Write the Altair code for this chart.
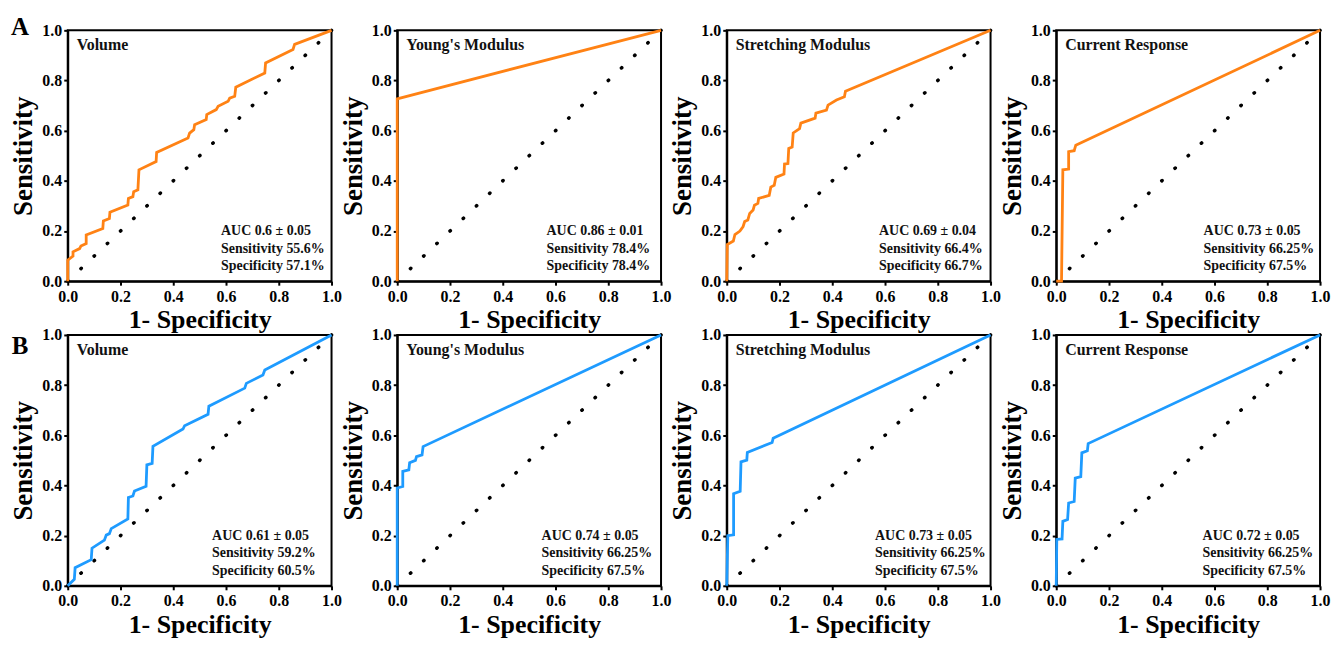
import altair as alt
import pandas as pd

# ---------------- data ----------------
panel_names = ["Volume", "Young's Modulus", "Stretching Modulus", "Current Response"]
tick_values = [0.0, 0.2, 0.4, 0.6, 0.8, 1.0]
diag_x = [0.0, 1.0]
diag_y = [0.0, 1.0]

# Row A (orange)
a_volume_fpr = [0, 0, 0.02, 0.02, 0.045, 0.05, 0.07, 0.07, 0.133, 0.135, 0.158, 0.16, 0.228, 0.23, 0.247, 0.25,
                0.266, 0.27, 0.335, 0.337, 0.456, 0.462, 0.478, 0.481, 0.525, 0.527, 0.563, 0.57, 0.608, 0.614,
                0.633, 0.637, 0.747, 0.75, 0.854, 0.86, 1.0]
a_volume_tpr = [0, 0.084, 0.1, 0.117, 0.13, 0.14, 0.15, 0.184, 0.21, 0.24, 0.25, 0.275, 0.304, 0.33, 0.337, 0.357,
                0.364, 0.444, 0.477, 0.513, 0.571, 0.59, 0.604, 0.624, 0.644, 0.664, 0.684, 0.697, 0.717, 0.73,
                0.737, 0.773, 0.83, 0.87, 0.924, 0.944, 1.0]
a_young_fpr = [0, 0, 1.0]
a_young_tpr = [0, 0.727, 1.0]
a_stretch_fpr = [0, 0.002, 0.025, 0.031, 0.05, 0.062, 0.068, 0.08, 0.087, 0.1, 0.105, 0.118, 0.121, 0.161, 0.167,
                 0.18, 0.186, 0.217, 0.219, 0.232, 0.235, 0.248, 0.252, 0.276, 0.281, 0.335, 0.338, 0.378, 0.384,
                 0.416, 0.446, 0.45, 1.0]
a_stretch_tpr = [0, 0.146, 0.16, 0.186, 0.2, 0.218, 0.238, 0.244, 0.27, 0.284, 0.303, 0.31, 0.33, 0.342, 0.375,
                 0.382, 0.414, 0.427, 0.467, 0.469, 0.529, 0.535, 0.591, 0.608, 0.63, 0.65, 0.67, 0.682, 0.702,
                 0.722, 0.735, 0.757, 1.0]
a_current_fpr = [0, 0.02, 0.025, 0.047, 0.047, 0.068, 0.074, 1.0]
a_current_tpr = [0, 0, 0.444, 0.447, 0.516, 0.52, 0.542, 1.0]

# Row B (blue)
b_volume_fpr = [0, 0.025, 0.028, 0.089, 0.092, 0.139, 0.146, 0.158, 0.165, 0.228, 0.23, 0.247, 0.253, 0.297, 0.3,
                0.32, 0.323, 0.437, 0.443, 0.532, 0.535, 0.671, 0.677, 0.74, 0.747, 1.0]
b_volume_tpr = [0, 0.026, 0.072, 0.104, 0.15, 0.182, 0.202, 0.208, 0.228, 0.267, 0.352, 0.358, 0.378, 0.397, 0.482,
                0.488, 0.556, 0.625, 0.638, 0.684, 0.716, 0.788, 0.807, 0.84, 0.86, 1.0]
b_young_fpr = [0, 0, 0.021, 0.021, 0.044, 0.047, 0.069, 0.073, 0.094, 0.098, 1.0]
b_young_tpr = [0, 0.39, 0.396, 0.456, 0.462, 0.491, 0.5, 0.515, 0.522, 0.555, 1.0]
b_stretch_fpr = [0, 0.004, 0.026, 0.026, 0.051, 0.054, 0.076, 0.078, 0.172, 0.176, 1.0]
b_stretch_tpr = [0, 0.2, 0.203, 0.367, 0.377, 0.494, 0.501, 0.532, 0.571, 0.588, 1.0]
b_current_fpr = [0, 0.002, 0.022, 0.025, 0.043, 0.047, 0.068, 0.072, 0.093, 0.097, 0.118, 0.121, 1.0]
b_current_tpr = [0, 0.185, 0.187, 0.257, 0.264, 0.33, 0.336, 0.429, 0.435, 0.53, 0.538, 0.567, 1.0]

a_stats = [
    ["AUC 0.6 \u00b1 0.05", "Sensitivity 55.6%", "Specificity 57.1%"],
    ["AUC 0.86 \u00b1 0.01", "Sensitivity 78.4%", "Specificity 78.4%"],
    ["AUC 0.69 \u00b1 0.04", "Sensitivity 66.4%", "Specificity 66.7%"],
    ["AUC 0.73 \u00b1 0.05", "Sensitivity 66.25%", "Specificity 67.5%"],
]
b_stats = [
    ["AUC 0.61 \u00b1 0.05", "Sensitivity 59.2%", "Specificity 60.5%"],
    ["AUC 0.74 \u00b1 0.05", "Sensitivity 66.25%", "Specificity 67.5%"],
    ["AUC 0.73 \u00b1 0.05", "Sensitivity 66.25%", "Specificity 67.5%"],
    ["AUC 0.72 \u00b1 0.05", "Sensitivity 66.25%", "Specificity 67.5%"],
]
row_letters = ["A", "B"]

# ---------------- styling ----------------
FONT = "Liberation Serif"
ORANGE = "#FF8214"
BLUE = "#1E9BFF"
W, H = 265, 252


def panel(fpr, tpr, color, name, stats, stats_x, letter=None, letter_y=0):
    df = pd.DataFrame({"fpr": fpr, "tpr": tpr, "order": list(range(len(fpr)))})
    diag = pd.DataFrame({"fpr": diag_x, "tpr": diag_y})
    x = alt.X("fpr:Q", scale=alt.Scale(domain=[0, 1], nice=False),
              axis=alt.Axis(values=tick_values, format=".1f", title="1- Specificity"))
    y = alt.Y("tpr:Q", scale=alt.Scale(domain=[0, 1], nice=False),
              axis=alt.Axis(values=tick_values, format=".1f", title="Sensitivity"))
    dotted = alt.Chart(diag).mark_line(
        color="black", strokeWidth=3.5, strokeDash=[0.5, 17.78], strokeCap="round"
    ).encode(x=x, y=y)
    curve = alt.Chart(df).mark_line(color=color, strokeWidth=2.8).encode(
        x=x, y=y, order="order:Q")
    name_t = alt.Chart(pd.DataFrame({"t": [name]})).mark_text(
        align="left", baseline="middle", font=FONT, fontSize=16, fontWeight="bold", color="#111"
    ).encode(x=alt.value(9), y=alt.value(15), text="t:N")
    layers = [dotted, curve, name_t]
    for i, s in enumerate(stats):
        layers.append(
            alt.Chart(pd.DataFrame({"t": [s]})).mark_text(
                align="left", baseline="middle", font=FONT, fontSize=14, fontWeight="bold", color="#111"
            ).encode(x=alt.value(stats_x), y=alt.value(H - 50 + 17.5 * i), text="t:N")
        )
    if letter:
        layers.append(
            alt.Chart(pd.DataFrame({"t": [letter]})).mark_text(
                align="center", baseline="middle", font=FONT, fontSize=25, fontWeight="bold", color="black"
            ).encode(x=alt.value(-48), y=alt.value(letter_y), text="t:N")
        )
    return alt.layer(*layers).properties(width=W, height=H)


row_a_data = [(a_volume_fpr, a_volume_tpr), (a_young_fpr, a_young_tpr),
              (a_stretch_fpr, a_stretch_tpr), (a_current_fpr, a_current_tpr)]
row_b_data = [(b_volume_fpr, b_volume_tpr), (b_young_fpr, b_young_tpr),
              (b_stretch_fpr, b_stretch_tpr), (b_current_fpr, b_current_tpr)]
a_sx = [154, 150, 153, 148]
b_sx = [145, 145, 149, 147]

panels = []
for i, (f, t) in enumerate(row_a_data):
    panels.append(panel(f, t, ORANGE, panel_names[i], a_stats[i], a_sx[i],
                        letter=row_letters[0] if i == 0 else None, letter_y=-3))
for i, (f, t) in enumerate(row_b_data):
    panels.append(panel(f, t, BLUE, panel_names[i], b_stats[i], b_sx[i],
                        letter=row_letters[1] if i == 0 else None, letter_y=11))

chart = alt.concat(
    *panels, columns=4, spacing=alt.RowColnumber(row=54, column=66), bounds="flush"
).properties(
    padding={"left": 1, "top": 5, "right": 0, "bottom": 0}
).configure_view(
    stroke="black", strokeWidth=2
).configure_axis(
    grid=False, domainColor="black", domainWidth=2, tickColor="black", tickWidth=2, tickSize=4,
    labelFont=FONT, labelFontWeight="bold", labelFontSize=16, labelColor="black",
    titleFont=FONT, titleFontWeight="bold", titleColor="black",
    labelFlush=False, labelOverlap=False,
).configure_axisX(
    titleFontSize=26, labelPadding=3, titlePadding=3
).configure_axisY(
    titleFontSize=27, labelPadding=2, titlePadding=4
)

chart.save("out.html", embed_options={"renderer": "svg", "actions": False})
